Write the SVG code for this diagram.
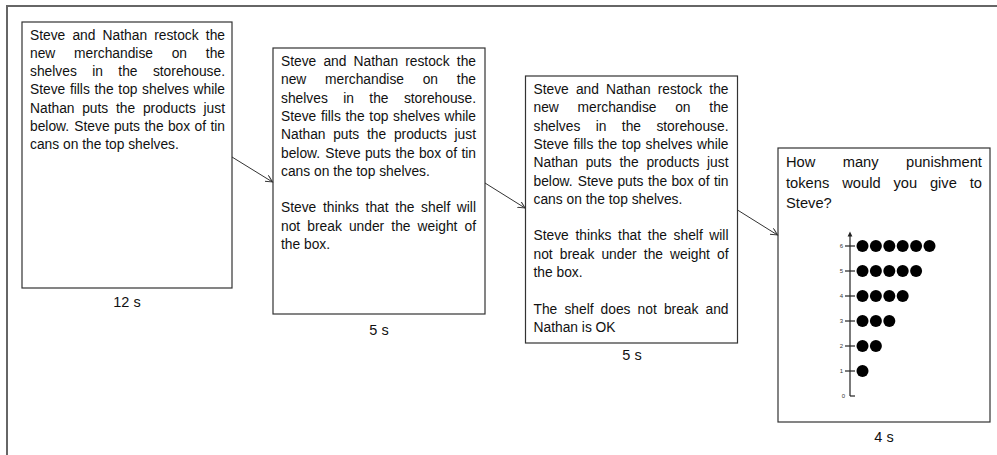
<svg xmlns="http://www.w3.org/2000/svg" width="997" height="455" viewBox="0 0 997 455">
<style>
.frame{stroke:#666;stroke-width:2;fill:none}
.box{fill:#fff;stroke:#333;stroke-width:1.2}
.t{font-family:"Liberation Sans",Arial,sans-serif;font-size:13.8px;fill:#111}
.q{font-family:"Liberation Sans",Arial,sans-serif;font-size:14.7px;fill:#111}
.lbl{font-family:"Liberation Sans",Arial,sans-serif;font-size:14.5px;fill:#111;text-anchor:middle}
.conn{stroke:#333;stroke-width:1;fill:none}
.axis{stroke:#222;stroke-width:1.2;fill:none}
.tick{font-family:"Liberation Sans",Arial,sans-serif;font-size:6px;fill:#333;text-anchor:end}
.dot{fill:#000}
</style>
<defs>
<marker id="arr" markerUnits="userSpaceOnUse" markerWidth="10" markerHeight="10" refX="7" refY="3.5" orient="auto">
<path d="M0,0 L7,3.5 L0,7" fill="none" stroke="#333" stroke-width="1"/>
</marker>
</defs>
<line class="frame" x1="6" y1="6" x2="997" y2="6"/>
<line class="frame" x1="7" y1="6" x2="7" y2="455"/>

<g id="screen1">
<rect class="box" x="22" y="22" width="210" height="266"/>
<g transform="translate(30,39.5)">
<text class="t"><tspan x="0" y="0">Steve</tspan> <tspan x="42.4" y="0">and</tspan> <tspan x="72.6" y="0">Nathan</tspan> <tspan x="124.2" y="0">restock</tspan> <tspan x="175.8" y="0">the</tspan>
<tspan x="0" y="18.3">new</tspan> <tspan x="44" y="18.3">merchandise</tspan> <tspan x="141.7" y="18.3">on</tspan> <tspan x="175.8" y="18.3">the</tspan>
<tspan x="0" y="36.6">shelves</tspan> <tspan x="62.2" y="36.6">in</tspan> <tspan x="88.3" y="36.6">the</tspan> <tspan x="122.9" y="36.6">storehouse.</tspan>
<tspan x="0" y="54.9">Steve</tspan> <tspan x="39.9" y="54.9">fills</tspan> <tspan x="64.5" y="54.9">the</tspan> <tspan x="88.3" y="54.9">top</tspan> <tspan x="112.1" y="54.9">shelves</tspan> <tspan x="163.6" y="54.9">while</tspan>
<tspan x="0" y="73.2">Nathan</tspan> <tspan x="52.2" y="73.2">puts</tspan> <tspan x="86" y="73.2">the</tspan> <tspan x="112.9" y="73.2">products</tspan> <tspan x="173.5" y="73.2">just</tspan>
<tspan x="0" y="91.5">below.</tspan> <tspan x="44.3" y="91.5">Steve</tspan> <tspan x="83.9" y="91.5">puts</tspan> <tspan x="114.4" y="91.5">the</tspan> <tspan x="137.9" y="91.5">box</tspan> <tspan x="164.6" y="91.5">of</tspan> <tspan x="180.4" y="91.5">tin</tspan>
<tspan x="0" y="109.8">cans on the top shelves.</tspan></text>
</g>
<text class="lbl" x="127" y="306.5">12 s</text>
</g>

<g id="screen2">
<rect class="box" x="273" y="48" width="212" height="266"/>
<g transform="translate(281,66)">
<text class="t"><tspan x="0" y="0">Steve</tspan> <tspan x="42.4" y="0">and</tspan> <tspan x="72.6" y="0">Nathan</tspan> <tspan x="124.2" y="0">restock</tspan> <tspan x="175.8" y="0">the</tspan>
<tspan x="0" y="18.3">new</tspan> <tspan x="44" y="18.3">merchandise</tspan> <tspan x="141.7" y="18.3">on</tspan> <tspan x="175.8" y="18.3">the</tspan>
<tspan x="0" y="36.6">shelves</tspan> <tspan x="62.2" y="36.6">in</tspan> <tspan x="88.3" y="36.6">the</tspan> <tspan x="122.9" y="36.6">storehouse.</tspan>
<tspan x="0" y="54.9">Steve</tspan> <tspan x="39.9" y="54.9">fills</tspan> <tspan x="64.5" y="54.9">the</tspan> <tspan x="88.3" y="54.9">top</tspan> <tspan x="112.1" y="54.9">shelves</tspan> <tspan x="163.6" y="54.9">while</tspan>
<tspan x="0" y="73.2">Nathan</tspan> <tspan x="52.2" y="73.2">puts</tspan> <tspan x="86" y="73.2">the</tspan> <tspan x="112.9" y="73.2">products</tspan> <tspan x="173.5" y="73.2">just</tspan>
<tspan x="0" y="91.5">below.</tspan> <tspan x="44.3" y="91.5">Steve</tspan> <tspan x="83.9" y="91.5">puts</tspan> <tspan x="114.4" y="91.5">the</tspan> <tspan x="137.9" y="91.5">box</tspan> <tspan x="164.6" y="91.5">of</tspan> <tspan x="180.4" y="91.5">tin</tspan>
<tspan x="0" y="109.8">cans on the top shelves.</tspan>
<tspan x="0" y="146.4">Steve</tspan> <tspan x="41.9" y="146.4">thinks</tspan> <tspan x="84.6" y="146.4">that</tspan> <tspan x="114.3" y="146.4">the</tspan> <tspan x="140.1" y="146.4">shelf</tspan> <tspan x="175.85" y="146.4">will</tspan>
<tspan x="0" y="164.7">not</tspan> <tspan x="26.3" y="164.7">break</tspan> <tspan x="67.9" y="164.7">under</tspan> <tspan x="110.3" y="164.7">the</tspan> <tspan x="136.5" y="164.7">weight</tspan> <tspan x="183.5" y="164.7">of</tspan>
<tspan x="0" y="183">the box.</tspan></text>
</g>
<text class="lbl" x="379" y="335">5 s</text>
</g>

<g id="screen3">
<rect class="box" x="525.5" y="76" width="212" height="267"/>
<g transform="translate(533.5,94)">
<text class="t"><tspan x="0" y="0">Steve</tspan> <tspan x="42.4" y="0">and</tspan> <tspan x="72.6" y="0">Nathan</tspan> <tspan x="124.2" y="0">restock</tspan> <tspan x="175.8" y="0">the</tspan>
<tspan x="0" y="18.3">new</tspan> <tspan x="44" y="18.3">merchandise</tspan> <tspan x="141.7" y="18.3">on</tspan> <tspan x="175.8" y="18.3">the</tspan>
<tspan x="0" y="36.6">shelves</tspan> <tspan x="62.2" y="36.6">in</tspan> <tspan x="88.3" y="36.6">the</tspan> <tspan x="122.9" y="36.6">storehouse.</tspan>
<tspan x="0" y="54.9">Steve</tspan> <tspan x="39.9" y="54.9">fills</tspan> <tspan x="64.5" y="54.9">the</tspan> <tspan x="88.3" y="54.9">top</tspan> <tspan x="112.1" y="54.9">shelves</tspan> <tspan x="163.6" y="54.9">while</tspan>
<tspan x="0" y="73.2">Nathan</tspan> <tspan x="52.2" y="73.2">puts</tspan> <tspan x="86" y="73.2">the</tspan> <tspan x="112.9" y="73.2">products</tspan> <tspan x="173.5" y="73.2">just</tspan>
<tspan x="0" y="91.5">below.</tspan> <tspan x="44.3" y="91.5">Steve</tspan> <tspan x="83.9" y="91.5">puts</tspan> <tspan x="114.4" y="91.5">the</tspan> <tspan x="137.9" y="91.5">box</tspan> <tspan x="164.6" y="91.5">of</tspan> <tspan x="180.4" y="91.5">tin</tspan>
<tspan x="0" y="109.8">cans on the top shelves.</tspan>
<tspan x="0" y="146.4">Steve</tspan> <tspan x="41.9" y="146.4">thinks</tspan> <tspan x="84.6" y="146.4">that</tspan> <tspan x="114.3" y="146.4">the</tspan> <tspan x="140.1" y="146.4">shelf</tspan> <tspan x="175.85" y="146.4">will</tspan>
<tspan x="0" y="164.7">not</tspan> <tspan x="26.3" y="164.7">break</tspan> <tspan x="67.9" y="164.7">under</tspan> <tspan x="110.3" y="164.7">the</tspan> <tspan x="136.5" y="164.7">weight</tspan> <tspan x="183.5" y="164.7">of</tspan>
<tspan x="0" y="183">the box.</tspan>
<tspan x="0" y="219.6">The</tspan> <tspan x="30.9" y="219.6">shelf</tspan> <tspan x="67.1" y="219.6">does</tspan> <tspan x="104.1" y="219.6">not</tspan> <tspan x="130.4" y="219.6">break</tspan> <tspan x="172" y="219.6">and</tspan>
<tspan x="0" y="237.9">Nathan is OK</tspan></text>
</g>
<text class="lbl" x="632" y="359.5">5 s</text>
</g>

<g id="screen4">
<rect class="box" x="778" y="148" width="212" height="274"/>
<g transform="translate(786,167.3)">
<text class="q"><tspan x="0" y="0">How</tspan> <tspan x="56.7" y="0">many</tspan> <tspan x="120" y="0">punishment</tspan>
<tspan x="0" y="20.3">tokens</tspan> <tspan x="56.2" y="20.3">would</tspan> <tspan x="107.4" y="20.3">you</tspan> <tspan x="143.9" y="20.3">give</tspan> <tspan x="183.7" y="20.3">to</tspan>
<tspan x="0" y="40.6">Steve?</tspan></text>
</g>
<g id="scale">
<line class="axis" x1="850" y1="396" x2="850" y2="235"/>
<polygon points="847.6,236.5 850,231.5 852.4,236.5" fill="#222"/>
<g class="axis">
<line x1="850" y1="396" x2="855" y2="396"/>
<line x1="845" y1="371" x2="855" y2="371"/>
<line x1="845" y1="346" x2="855" y2="346"/>
<line x1="845" y1="321" x2="855" y2="321"/>
<line x1="845" y1="296" x2="855" y2="296"/>
<line x1="845" y1="271" x2="855" y2="271"/>
<line x1="845" y1="246" x2="855" y2="246"/>
</g>
<text class="tick" x="845" y="398">0</text>
<text class="tick" x="843" y="373">1</text>
<text class="tick" x="843" y="348">2</text>
<text class="tick" x="843" y="323">3</text>
<text class="tick" x="843" y="298">4</text>
<text class="tick" x="843" y="273">5</text>
<text class="tick" x="843" y="248">6</text>
<g class="dot">
<circle cx="862.5" cy="371" r="6"/>
<circle cx="862.5" cy="346" r="6"/><circle cx="875.9" cy="346" r="6"/>
<circle cx="862.5" cy="321" r="6"/><circle cx="875.9" cy="321" r="6"/><circle cx="889.3" cy="321" r="6"/>
<circle cx="862.5" cy="296" r="6"/><circle cx="875.9" cy="296" r="6"/><circle cx="889.3" cy="296" r="6"/><circle cx="902.7" cy="296" r="6"/>
<circle cx="862.5" cy="271" r="6"/><circle cx="875.9" cy="271" r="6"/><circle cx="889.3" cy="271" r="6"/><circle cx="902.7" cy="271" r="6"/><circle cx="916.1" cy="271" r="6"/>
<circle cx="862.5" cy="246" r="6"/><circle cx="875.9" cy="246" r="6"/><circle cx="889.3" cy="246" r="6"/><circle cx="902.7" cy="246" r="6"/><circle cx="916.1" cy="246" r="6"/><circle cx="929.5" cy="246" r="6"/>
</g>
</g>
<text class="lbl" x="884" y="441.5">4 s</text>
</g>

<g id="connectors">
<line class="conn" x1="232" y1="157" x2="272.5" y2="182" marker-end="url(#arr)"/>
<line class="conn" x1="485" y1="183" x2="525" y2="208" marker-end="url(#arr)"/>
<line class="conn" x1="737.5" y1="210" x2="777.5" y2="235" marker-end="url(#arr)"/>
</g>
</svg>
